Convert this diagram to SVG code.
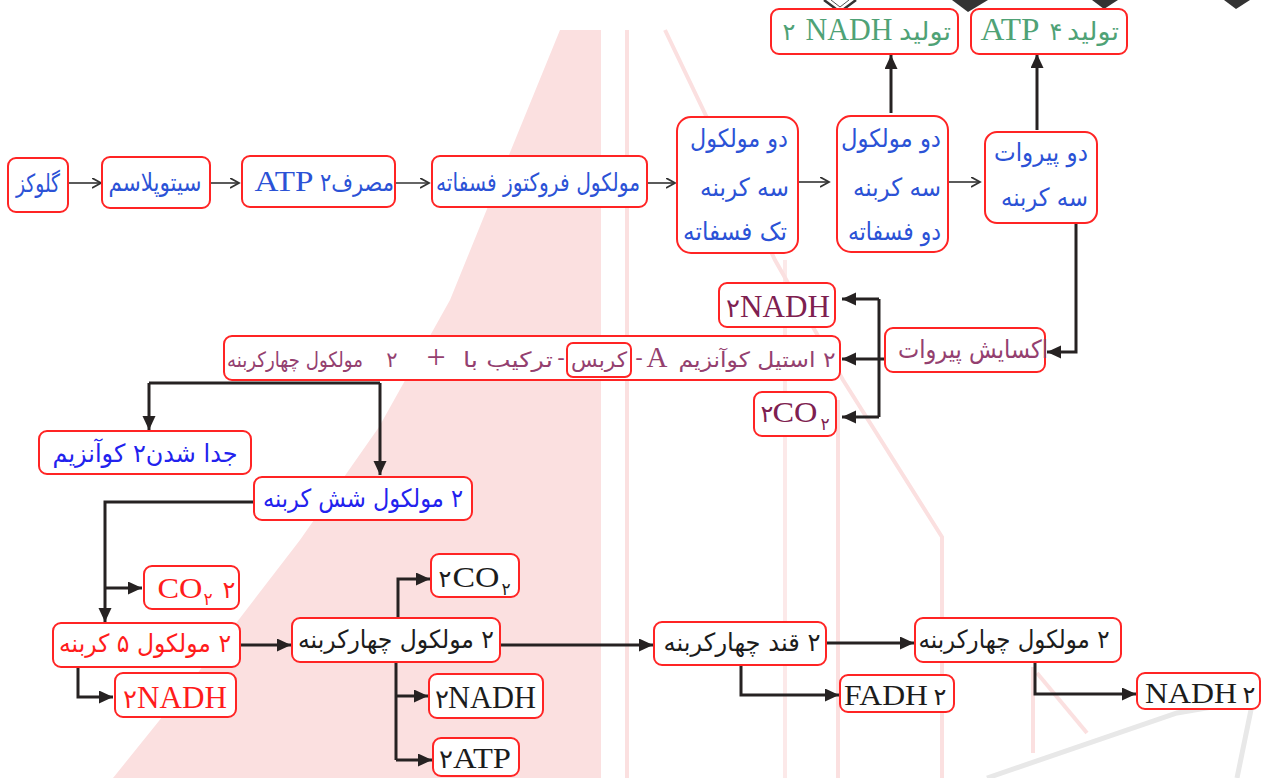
<svg xmlns="http://www.w3.org/2000/svg" width="1264" height="778" viewBox="0 0 1264 778">
<style>
.box{fill:#fff;stroke:#ff2424;stroke-width:2}
.fa{font-family:"DejaVu Sans",sans-serif;font-size:25px}
.fs{font-size:21px}
.dg{font-family:"DejaVu Sans",sans-serif}
.en{font-family:"Liberation Serif","DejaVu Serif",serif}
.blue{fill:#2b52d6}
.blue2{fill:#2222ee}
.green{fill:#4fa276}
.purple{fill:#94406f}
.maroon{fill:#7e2050}
.red{fill:#ff1c1c}
.black{fill:#1c1c1c}
.thin{fill:none;stroke:#333;stroke-width:1.6;marker-end:url(#open)}
.thick{fill:none;stroke:#262222;stroke-width:3;marker-end:url(#solid)}
.line{fill:none;stroke:#262222;stroke-width:3}
.wm{fill:none;stroke:#fbe0e0;stroke-width:4}
</style>
<defs>
<marker id="open" markerUnits="userSpaceOnUse" markerWidth="12" markerHeight="12" refX="9" refY="5" orient="auto">
<path d="M0,0 L9,5 L0,10" fill="none" stroke="#333" stroke-width="1.8"/>
</marker>
<marker id="solid" markerUnits="userSpaceOnUse" markerWidth="16" markerHeight="14" refX="14" refY="6.5" orient="auto">
<path d="M0,0 L14,6.5 L0,13 Z" fill="#262222"/>
</marker>
</defs>
<rect width="1264" height="778" fill="#fff"/>
<g id="watermark">
<path d="M560,30 L601,30 L601,778 L113,778 L200,670 L300,540 L379,427 L450,300 L511,150 Z" fill="#fbe0e0"/>
<path class="wm" d="M627,30 V778"/>
<path class="wm" d="M665,30 L775,260 L843,380 L942,537 V778"/>
<path class="wm" d="M785,260 V778" stroke-opacity="0.7"/>
<path class="wm" d="M838,400 V778"/>
<path class="wm" d="M1033,667 V753 M1037,673 L1087,733"/>
<path d="M987,778 L1177,713 L1253,700 L1237,778" fill="none" stroke="#e8e8e8" stroke-width="5"/>
</g>
<g id="topcut">
<path d="M824,0 L840,12 L856,0" fill="#fff" stroke="#333" stroke-width="2.5"/>
<path d="M831,0 L840,7 L849,0" fill="none" stroke="#555" stroke-width="1"/>
<path d="M952,0 L968,12 L988,0 Z" fill="#333"/>
<path d="M1092,0 L1104,9 L1118,0 Z" fill="#333"/>
<path d="M1224,0 L1236,9 L1250,0 Z" fill="#333"/>
</g>
<g id="connectors">
<path class="thin" d="M69,183 H101"/>
<path class="thin" d="M211,183 H239"/>
<path class="thin" d="M396,183 H429"/>
<path class="thin" d="M648,183 H675"/>
<path class="thin" d="M798,182 H829"/>
<path class="thin" d="M948,182 H980"/>
<path class="thick" d="M891,113 V55"/>
<path class="thick" d="M1037,130 V54"/>
<path class="thick" d="M1076,224 V352 H1047"/>
<path class="line" d="M879,299 V417"/>
<path class="thick" d="M879,299 H842"/>
<path class="thick" d="M885,359 H842"/>
<path class="thick" d="M879,417 H842"/>
<path class="line" d="M149,383 H380"/>
<path class="thick" d="M149,383 V430"/>
<path class="thick" d="M380,383 V475"/>
<path class="thick" d="M254,502 H105 V622"/>
<path class="thick" d="M105,588 H142"/>
<path class="thick" d="M78,667 V697 H113"/>
<path class="thick" d="M240,645 H291"/>
<path class="thick" d="M398,618 V579 H430"/>
<path class="line" d="M396,662 V760"/>
<path class="thick" d="M396,696 H428"/>
<path class="thick" d="M396,760 H432"/>
<path class="thick" d="M500,645 H653"/>
<path class="thick" d="M826,643 H914"/>
<path class="thick" d="M741,665 V695 H839"/>
<path class="thick" d="M1035,662 V694 H1136"/>
</g>
<g id="n-glucose"><rect class="box" x="8" y="158" width="60" height="54" rx="8"/><text class="fa blue" x="38" y="192" text-anchor="middle" textLength="44" lengthAdjust="spacingAndGlyphs">گلوکز</text></g>
<g id="n-cytoplasm"><rect class="box" x="102" y="157" width="108" height="51" rx="8"/><text class="fa blue" x="155" y="191" text-anchor="middle" textLength="93" lengthAdjust="spacingAndGlyphs">سیتوپلاسم</text></g>
<g id="n-atp-use"><rect class="box" x="242" y="156" width="153" height="51" rx="8"/><text class="en blue" x="284" y="191" font-size="30" text-anchor="middle" textLength="59" lengthAdjust="spacingAndGlyphs">ATP</text><text class="fa blue" x="357" y="191" direction="rtl" text-anchor="middle" textLength="74" lengthAdjust="spacingAndGlyphs">مصرف۲</text></g>
<g id="n-fructose"><rect class="box" x="432" y="156" width="215" height="51" rx="8"/><text class="fa blue" x="538" y="191" text-anchor="middle" textLength="204" lengthAdjust="spacingAndGlyphs">مولکول فروکتوز فسفاته</text></g>
<g id="n-3c-1p"><rect class="box" x="677" y="117" width="121" height="136" rx="14"/>
<text class="fa blue" x="788" y="147" text-anchor="end" textLength="98" lengthAdjust="spacingAndGlyphs">دو مولکول</text>
<text class="fa blue" x="789" y="196" text-anchor="end" textLength="89" lengthAdjust="spacingAndGlyphs">سه کربنه</text>
<text class="fa blue" x="787" y="240" text-anchor="end" textLength="104" lengthAdjust="spacingAndGlyphs">تک فسفاته</text></g>
<g id="n-3c-2p"><rect class="box" x="837" y="116" width="111" height="136" rx="14"/>
<text class="fa blue" x="941" y="147" text-anchor="end" textLength="100" lengthAdjust="spacingAndGlyphs">دو مولکول</text>
<text class="fa blue" x="941" y="196" text-anchor="end" textLength="88" lengthAdjust="spacingAndGlyphs">سه کربنه</text>
<text class="fa blue" x="941" y="240" text-anchor="end" textLength="93" lengthAdjust="spacingAndGlyphs">دو فسفاته</text></g>
<g id="n-pyruvate"><rect class="box" x="985" y="132" width="112" height="91" rx="12"/>
<text class="fa blue" x="1088" y="161" text-anchor="end" textLength="94" lengthAdjust="spacingAndGlyphs">دو پیروات</text>
<text class="fa blue" x="1088" y="206" text-anchor="end" textLength="87" lengthAdjust="spacingAndGlyphs">سه کربنه</text></g>
<g id="n-nadh-prod"><rect class="box" x="771" y="9" width="187" height="45" rx="8"/><text class="dg green" x="789" y="40" font-size="24" text-anchor="middle">۲</text><text class="en green" x="849" y="40" font-size="31" text-anchor="middle" textLength="87" lengthAdjust="spacingAndGlyphs">NADH</text><text class="fa green" x="925" y="40" text-anchor="middle" textLength="52" lengthAdjust="spacingAndGlyphs">تولید</text></g>
<g id="n-atp-prod"><rect class="box" x="971" y="9" width="156" height="45" rx="8"/><text class="en green" x="1010" y="40" font-size="31" text-anchor="middle" textLength="59" lengthAdjust="spacingAndGlyphs">ATP</text><text class="dg green" x="1056" y="40" font-size="24" text-anchor="middle">۴</text><text class="fa green" x="1093" y="40" text-anchor="middle" textLength="52" lengthAdjust="spacingAndGlyphs">تولید</text></g>
<g id="n-oxidation"><rect class="box" x="885" y="328" width="160" height="44" rx="8"/><text class="fa purple" x="973" y="358" text-anchor="middle" textLength="150" lengthAdjust="spacingAndGlyphs">اکسایش پیروات</text></g>
<g id="n-nadh-1"><rect class="box" x="719" y="283" width="116" height="44" rx="8"/><text class="dg maroon" x="733" y="317" font-size="26" text-anchor="middle">۲</text><text class="en maroon" x="785" y="317" font-size="31" text-anchor="middle" textLength="90" lengthAdjust="spacingAndGlyphs">NADH</text></g>
<g id="n-co2-1"><rect class="box" x="754" y="392" width="82" height="44" rx="8"/><text class="dg maroon" x="767" y="422" font-size="24" text-anchor="middle">۲</text><text class="en maroon" x="795" y="422" font-size="30" text-anchor="middle" textLength="45" lengthAdjust="spacingAndGlyphs">CO</text><text class="dg maroon" x="825" y="430" font-size="17" text-anchor="middle">۲</text></g>
<g id="n-acetyl"><rect class="box" x="224" y="336" width="616" height="44" rx="8"/><rect class="box" x="567" y="343" width="64" height="34" rx="6" fill="none"/>
<text class="fa fs purple" x="757" y="367" direction="rtl" text-anchor="middle" textLength="157" lengthAdjust="spacingAndGlyphs">۲ استیل کوآنزیم</text>
<text class="en purple" x="657" y="367" font-size="29" text-anchor="middle">A</text>
<text class="fa fs purple" x="639" y="365" text-anchor="middle">-</text>
<text class="fa fs purple" x="599" y="367" text-anchor="middle" textLength="56" lengthAdjust="spacingAndGlyphs">کربس</text>
<text class="fa fs purple" x="561" y="365" text-anchor="middle">-</text>
<text class="fa fs purple" x="508" y="367" text-anchor="middle" textLength="90" lengthAdjust="spacingAndGlyphs">ترکیب با</text>
<text class="en purple" x="436" y="368" font-size="34" text-anchor="middle">+</text>
<text class="dg purple" x="392" y="367" font-size="21" text-anchor="middle">۲</text>
<text class="fa fs purple" x="295" y="367" text-anchor="middle" textLength="136" lengthAdjust="spacingAndGlyphs">مولکول چهارکربنه</text></g>
<g id="n-coenzyme"><rect class="box" x="39" y="431" width="212" height="43" rx="8"/><text class="fa blue2" x="145" y="462" direction="rtl" text-anchor="middle" textLength="185" lengthAdjust="spacingAndGlyphs">جدا شدن۲ کوآنزیم</text></g>
<g id="n-6c"><rect class="box" x="254" y="477" width="218" height="43" rx="8"/><text class="fa blue2" x="363" y="507" direction="rtl" text-anchor="middle" textLength="200" lengthAdjust="spacingAndGlyphs">۲ مولکول شش کربنه</text></g>
<g id="n-co2-2"><rect class="box" x="144" y="566" width="95" height="43" rx="8"/><text class="en red" x="180" y="598" font-size="30" text-anchor="middle" textLength="45" lengthAdjust="spacingAndGlyphs">CO</text><text class="dg red" x="208" y="605" font-size="17" text-anchor="middle">۲</text><text class="dg red" x="229" y="598" font-size="24" text-anchor="middle">۲</text></g>
<g id="n-5c"><rect class="box" x="53" y="623" width="187" height="44" rx="8"/><text class="fa red" x="145" y="652" direction="rtl" text-anchor="middle" textLength="172" lengthAdjust="spacingAndGlyphs">۲ مولکول ۵ کربنه</text></g>
<g id="n-nadh-2"><rect class="box" x="115" y="673" width="121" height="44" rx="8"/><text class="dg red" x="130" y="708" font-size="26" text-anchor="middle">۲</text><text class="en red" x="182" y="708" font-size="31" text-anchor="middle" textLength="90" lengthAdjust="spacingAndGlyphs">NADH</text></g>
<g id="n-4c-1"><rect class="box" x="292" y="618" width="208" height="44" rx="8"/><text class="fa black" x="396" y="648" direction="rtl" text-anchor="middle" textLength="196" lengthAdjust="spacingAndGlyphs">۲ مولکول چهارکربنه</text></g>
<g id="n-co2-3"><rect class="box" x="431" y="554" width="88" height="43" rx="8"/><text class="dg black" x="445" y="587" font-size="24" text-anchor="middle">۲</text><text class="en black" x="476" y="587" font-size="30" text-anchor="middle" textLength="47" lengthAdjust="spacingAndGlyphs">CO</text><text class="dg black" x="506" y="595" font-size="17" text-anchor="middle">۲</text></g>
<g id="n-nadh-3"><rect class="box" x="429" y="674" width="114" height="44" rx="8"/><text class="dg black" x="442" y="708" font-size="26" text-anchor="middle">۲</text><text class="en black" x="492" y="708" font-size="31" text-anchor="middle" textLength="88" lengthAdjust="spacingAndGlyphs">NADH</text></g>
<g id="n-atp-3"><rect class="box" x="433" y="738" width="86" height="38" rx="8"/><text class="dg black" x="446" y="768" font-size="26" text-anchor="middle">۲</text><text class="en black" x="482" y="768" font-size="30" text-anchor="middle" textLength="58" lengthAdjust="spacingAndGlyphs">ATP</text></g>
<g id="n-sugar"><rect class="box" x="654" y="622" width="172" height="43" rx="8"/><text class="fa black" x="742" y="651" direction="rtl" text-anchor="middle" textLength="157" lengthAdjust="spacingAndGlyphs">۲ قند چهارکربنه</text></g>
<g id="n-4c-2"><rect class="box" x="915" y="618" width="206" height="44" rx="8"/><text class="fa black" x="1014" y="648" direction="rtl" text-anchor="middle" textLength="191" lengthAdjust="spacingAndGlyphs">۲ مولکول چهارکربنه</text></g>
<g id="n-fadh"><rect class="box" x="840" y="675" width="114" height="37" rx="8"/><text class="en black" x="886" y="705" font-size="30" text-anchor="middle" textLength="84" lengthAdjust="spacingAndGlyphs">FADH</text><text class="dg black" x="940" y="705" font-size="24" text-anchor="middle">۲</text></g>
<g id="n-nadh-4"><rect class="box" x="1137" y="673" width="123" height="36" rx="8"/><text class="en black" x="1191" y="703" font-size="30" text-anchor="middle" textLength="92" lengthAdjust="spacingAndGlyphs">NADH</text><text class="dg black" x="1249" y="703" font-size="24" text-anchor="middle">۲</text></g>
</svg>
